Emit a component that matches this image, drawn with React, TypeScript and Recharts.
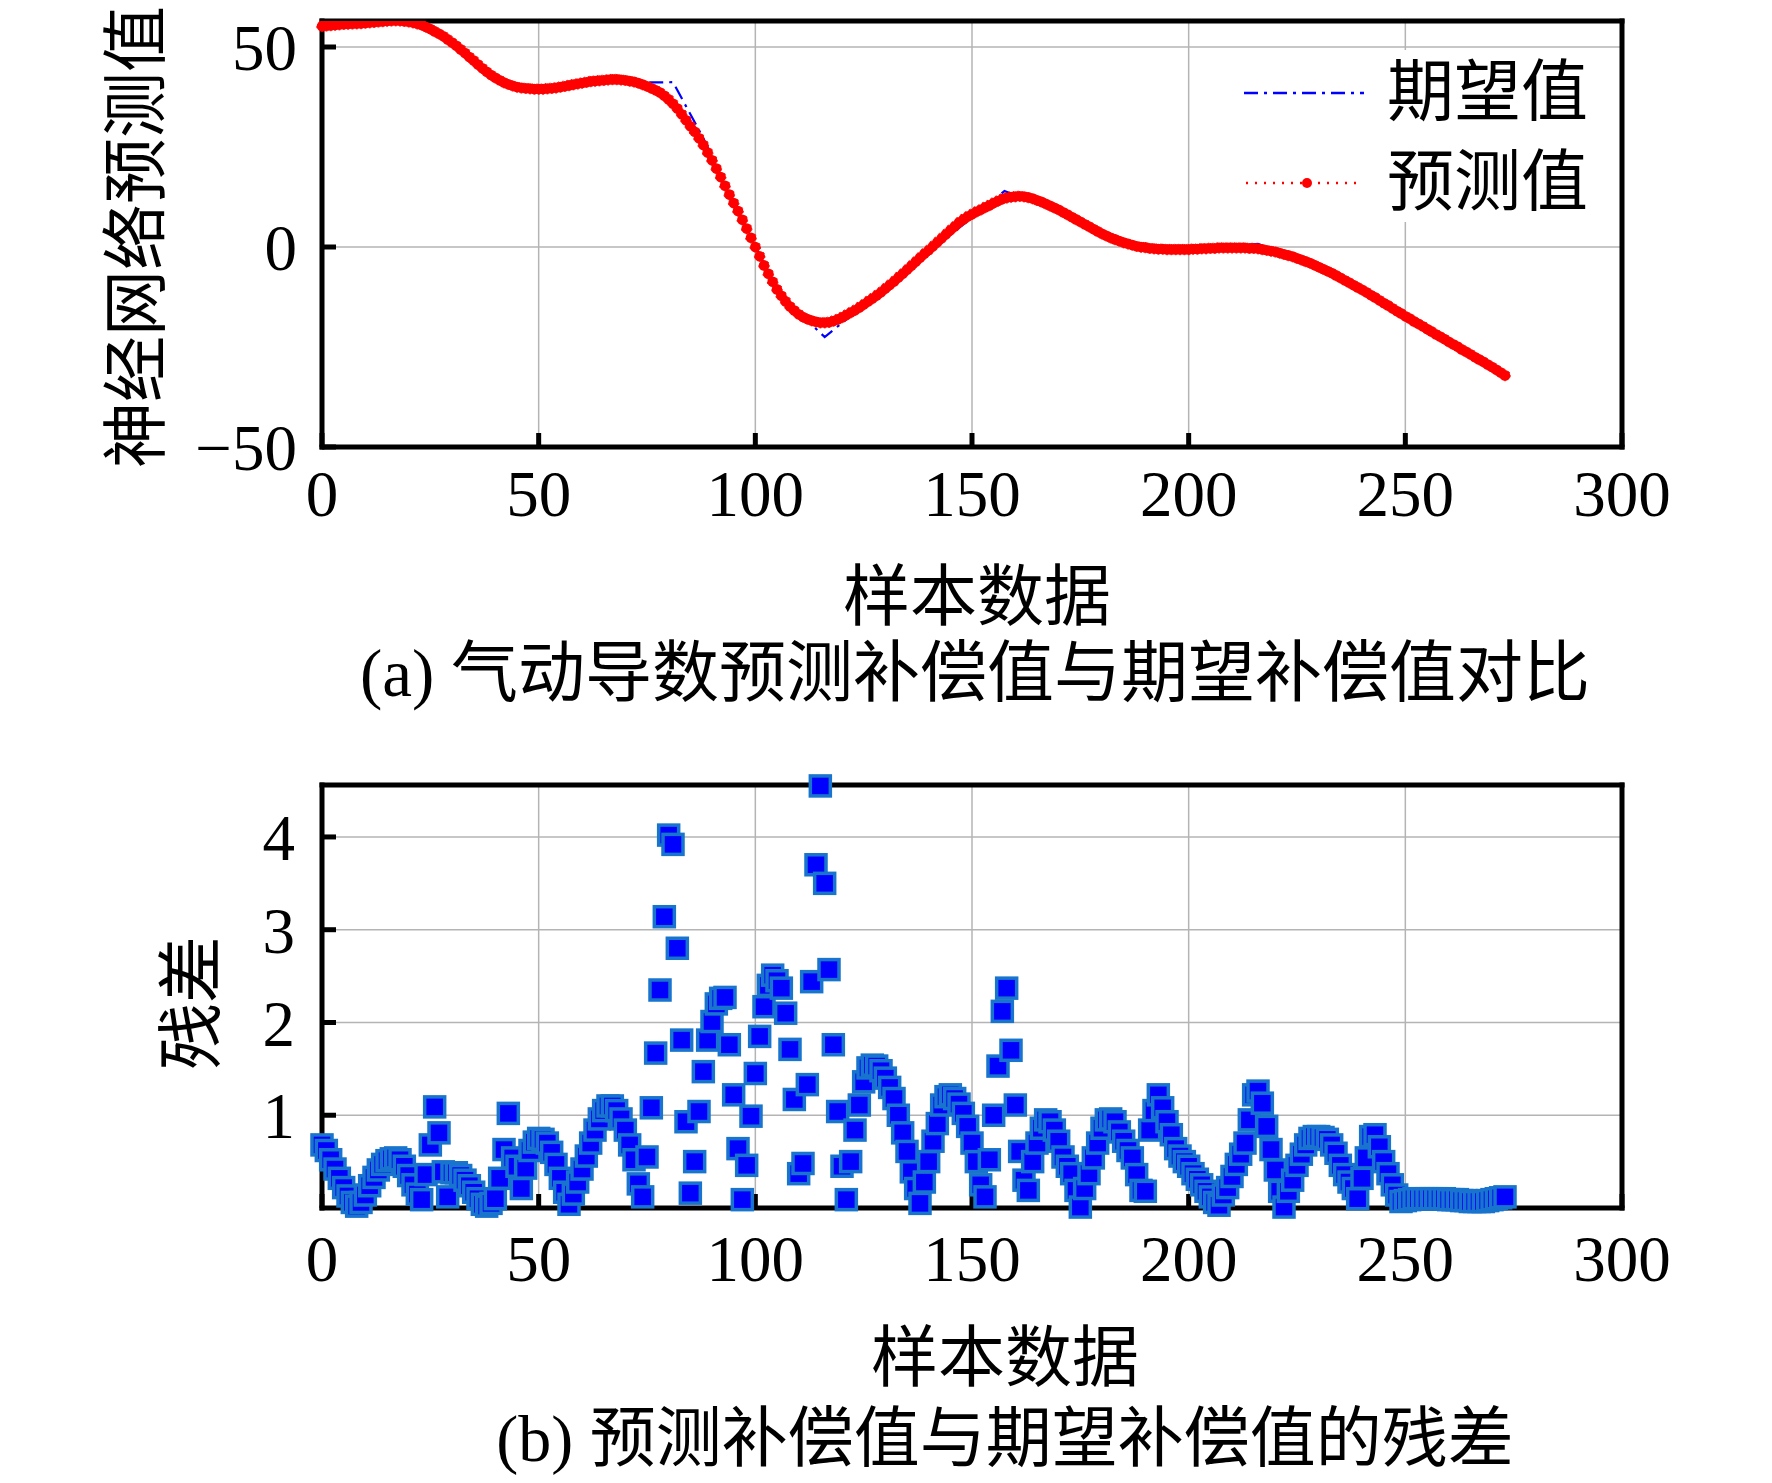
import React from "react";
import {
  LineChart, Line, ScatterChart, Scatter, XAxis, YAxis, CartesianGrid,
} from "recharts";

// sample index ticks shared by both panels
const sampleTicks = [0, 50, 100, 150, 200, 250, 300];
const valueTicks = [-50, 0, 50];
const residualTicks = [1, 2, 3, 4];

// predicted compensation value, one per sample (0..273)
const predicted = [
  55.2, 55.3, 55.4, 55.5, 55.6, 55.7, 55.75, 55.8, 55.85, 55.9,
  56.0, 56.1, 56.2, 56.3, 56.4, 56.5, 56.55, 56.6, 56.55, 56.45,
  56.3, 56.1, 55.8, 55.5, 55.0, 54.5, 53.9, 53.3, 52.7, 51.9,
  51.1, 50.3, 49.4, 48.5, 47.5, 46.6, 45.6, 44.7, 43.8, 43.0,
  42.3, 41.7, 41.1, 40.7, 40.3, 40.0, 39.8, 39.7, 39.6, 39.5,
  39.5, 39.5, 39.6, 39.7, 39.8, 40.0, 40.2, 40.4, 40.6, 40.8,
  41.0, 41.2, 41.4, 41.5, 41.6, 41.7, 41.8, 41.9, 41.9, 41.8,
  41.7, 41.5, 41.3, 41.0, 40.6, 40.2, 39.7, 39.2, 38.6, 37.8,
  36.9, 35.8, 34.6, 33.2, 31.7, 30.2, 28.8, 27.2, 25.5, 23.6,
  21.7, 19.6, 17.5, 15.3, 13.1, 11.0, 9.0, 6.8, 4.6, 2.3,
  0.0, -2.3, -4.6, -6.7, -8.7, -10.6, -12.2, -13.6, -14.9, -15.9,
  -16.8, -17.5, -18.0, -18.4, -18.7, -18.9, -18.9, -18.8, -18.5, -18.1,
  -17.6, -17.0, -16.4, -15.8, -15.1, -14.4, -13.6, -12.9, -12.1, -11.3,
  -10.4, -9.5, -8.6, -7.6, -6.7, -5.7, -4.7, -3.7, -2.7, -1.7,
  -0.8, 0.2, 1.2, 2.2, 3.2, 4.2, 5.1, 6.1, 6.9, 7.6,
  8.2, 8.8, 9.3, 9.9, 10.4, 11.0, 11.5, 12.0, 12.3, 12.5,
  12.6, 12.7, 12.6, 12.4, 12.1, 11.7, 11.3, 10.8, 10.3, 9.8,
  9.3, 8.7, 8.1, 7.5, 6.9, 6.3, 5.7, 5.1, 4.5, 3.9,
  3.3, 2.8, 2.3, 1.9, 1.5, 1.1, 0.8, 0.5, 0.2, 0.0,
  -0.1, -0.3, -0.4, -0.5, -0.5, -0.6, -0.6, -0.6, -0.6, -0.6,
  -0.6, -0.5, -0.5, -0.4, -0.4, -0.3, -0.3, -0.2, -0.2, -0.2,
  -0.2, -0.2, -0.2, -0.2, -0.3, -0.3, -0.4, -0.6, -0.8, -1.0,
  -1.2, -1.5, -1.8, -2.1, -2.4, -2.8, -3.2, -3.6, -4.0, -4.5,
  -5.0, -5.5, -6.0, -6.5, -7.1, -7.7, -8.3, -8.9, -9.5, -10.1,
  -10.7, -11.3, -12.0, -12.6, -13.3, -14.0, -14.6, -15.3, -16.0, -16.6,
  -17.3, -17.9, -18.6, -19.2, -19.8, -20.5, -21.1, -21.8, -22.4, -23.0,
  -23.7, -24.3, -24.9, -25.6, -26.2, -26.8, -27.5, -28.1, -28.7, -29.4,
  -30.0, -30.7, -31.4, -32.1,
];

// expected value: piecewise linear, vertices
const expectedX = [0, 10, 18, 24, 30, 36, 42, 48, 54, 60, 81, 88, 94, 100, 106, 116, 157.5, 193, 216, 222, 230, 240, 250, 262, 273];
const expectedY = [55.2, 56.0, 56.6, 55.5, 51.1, 45.6, 41.1, 39.6, 39.8, 41.0, 41.2, 27.2, 13.1, 0.0, -12.2, -22.5, 14.0, -1.5, 0.8, -1.8, -5.0, -10.7, -17.3, -24.9, -32.1];

// residual per sample (0..273)
const residual = [
  0.68, 0.62, 0.52, 0.42, 0.32, 0.22, 0.13, 0.06, 0.02, 0.06,
  0.14, 0.24, 0.33, 0.41, 0.47, 0.51, 0.53, 0.54, 0.52, 0.45,
  0.35, 0.25, 0.15, 0.09, 0.36, 0.68, 1.09, 0.81, 0.39, 0.12,
  0.38, 0.38, 0.35, 0.30, 0.24, 0.17, 0.10, 0.04, 0.02, 0.05,
  0.10, 0.32, 0.63, 1.02, 0.54, 0.45, 0.21, 0.43, 0.62, 0.71,
  0.75, 0.74, 0.70, 0.60, 0.47, 0.32, 0.17, 0.04, 0.15, 0.28,
  0.42, 0.56, 0.70, 0.84, 0.96, 1.05, 1.10, 1.10, 1.05, 0.96,
  0.84, 0.68, 0.52, 0.26, 0.12, 0.55, 1.08, 1.67, 2.35, 3.14,
  4.02, 3.92, 2.80, 1.81, 0.93, 0.16, 0.50, 1.04, 1.47, 1.81,
  2.01, 2.20, 2.26, 2.27, 1.76, 1.22, 0.64, 0.09, 0.46, 0.99,
  1.45, 1.85, 2.17, 2.40, 2.51, 2.45, 2.37, 2.10, 1.71, 1.17,
  0.37, 0.48, 1.33, 2.44, 3.70, 4.55, 3.50, 2.57, 1.76, 1.04,
  0.45, 0.09, 0.50, 0.84, 1.11, 1.36, 1.51, 1.54, 1.53, 1.48,
  1.40, 1.30, 1.18, 1.00, 0.81, 0.61, 0.39, 0.21, 0.05, 0.28,
  0.50, 0.72, 0.91, 1.11, 1.20, 1.22, 1.18, 1.12, 1.02, 0.88,
  0.70, 0.50, 0.25, 0.12, 0.52, 1.00, 1.53, 2.12, 2.37, 1.70,
  1.11, 0.61, 0.30, 0.19, 0.50, 0.70, 0.86, 0.95, 0.93, 0.84,
  0.72, 0.55, 0.45, 0.37, 0.19, 0.01, 0.21, 0.37, 0.54, 0.70,
  0.86, 0.95, 0.96, 0.93, 0.82, 0.72, 0.62, 0.54, 0.36, 0.19,
  0.18, 0.84, 1.05, 1.22, 1.08, 0.93, 0.79, 0.64, 0.56, 0.50,
  0.45, 0.37, 0.31, 0.25, 0.18, 0.12, 0.06, 0.03, 0.14, 0.22,
  0.34, 0.47, 0.58, 0.70, 0.95, 1.22, 1.26, 1.13, 0.88, 0.63,
  0.41, 0.18, 0.01, 0.18, 0.30, 0.46, 0.58, 0.68, 0.75, 0.77,
  0.77, 0.76, 0.74, 0.68, 0.59, 0.46, 0.36, 0.28, 0.21, 0.10,
  0.32, 0.54, 0.77, 0.79, 0.66, 0.50, 0.37, 0.25, 0.14, 0.07,
  0.08, 0.09, 0.10, 0.10, 0.10, 0.10, 0.10, 0.10, 0.10, 0.10,
  0.09, 0.09, 0.09, 0.08, 0.08, 0.07, 0.07, 0.07, 0.07, 0.08,
  0.09, 0.10, 0.11, 0.12,
];

const predictedRows = predicted.map((v, i) => ({ x: i, y: v }));
const expectedRows = expectedX.map((x, i) => ({ x, y: expectedY[i] }));
const residualRows = residual.map((v, i) => ({ x: i, r: v }));

const SERIF = "'Liberation Serif', 'Times New Roman', 'Noto Sans CJK SC', serif";
const tickStyle = { fill: "#000", fontSize: 65, fontFamily: SERIF };
const axisLine = { stroke: "#000", strokeWidth: 5, strokeLinecap: "square" as const };
const tickLine = { stroke: "#000", strokeWidth: 5 };

const fmtMinus = (v: number) => (v < 0 ? `\u2212${-v}` : `${v}`);

const Square = (props: any) => {
  const { cx, cy } = props;
  if (cx == null || cy == null) return null;
  return <rect x={cx - 10} y={cy - 10} width={20} height={20} fill="#0000ff" stroke="#1874cd" strokeWidth={3.5} />;
};

// axes get 1px of width/height (recharts skips a 0-size axis); margins are shifted by 1 to keep the plot box at
// left 322, right 1622
export default function App() {
  return (
    <div style={{ position: "absolute", left: 0, top: 0, width: 1772, height: 1483, background: "#fff" }}>
      {/* (a) plot box y 21..447 */}
      <div style={{ position: "absolute", left: 0, top: 0 }}>
        <LineChart width={1772} height={540} margin={{ top: 20, right: 149, bottom: 92, left: 321 }}>
          <CartesianGrid stroke="#b4b4b4" strokeWidth={1.5} />
          <XAxis dataKey="x" type="number" domain={[0, 300]} ticks={sampleTicks} height={1}
            axisLine={axisLine} tickLine={tickLine} tickSize={-14} tickMargin={37} tick={tickStyle} />
          <XAxis xAxisId="top" orientation="top" dataKey="x" type="number" domain={[0, 300]} ticks={sampleTicks} height={1}
            axisLine={axisLine} tickLine={tickLine} tickSize={-14} tick={false} />
          <YAxis type="number" domain={[-50, 56.5]} ticks={valueTicks} width={1} allowDataOverflow
            axisLine={axisLine} tickLine={tickLine} tickSize={-14} tickMargin={39} tick={tickStyle} tickFormatter={fmtMinus} />
          <YAxis yAxisId="r" orientation="right" type="number" domain={[-50, 56.5]} ticks={valueTicks} width={1}
            axisLine={axisLine} tickLine={tickLine} tickSize={-14} tick={false} />
          <Line data={expectedRows} dataKey="y" stroke="#0000ff" strokeWidth={2.2} strokeDasharray="14 6 3 6"
            dot={false} isAnimationActive={false} />
          <Line data={predictedRows} dataKey="y" stroke="#ff0000" strokeWidth={2} strokeDasharray="2 5"
            dot={{ r: 5.3, fill: "#ff0000", stroke: "#ff0000", strokeWidth: 1 }} isAnimationActive={false} />
        </LineChart>
      </div>

      {/* (b) plot box y 785..1208 */}
      <div style={{ position: "absolute", left: 0, top: 760 }}>
        <ScatterChart width={1772} height={560} margin={{ top: 24, right: 149, bottom: 111, left: 321 }}>
          <CartesianGrid stroke="#b4b4b4" strokeWidth={1.5} />
          <XAxis dataKey="x" type="number" domain={[0, 300]} ticks={sampleTicks} height={1}
            axisLine={axisLine} tickLine={tickLine} tickSize={-14} tickMargin={41} tick={tickStyle} />
          <XAxis xAxisId="top" orientation="top" dataKey="x" type="number" domain={[0, 300]} ticks={sampleTicks} height={1}
            axisLine={axisLine} tickLine={tickLine} tickSize={-14} tick={false} />
          <YAxis dataKey="r" type="number" domain={[0, 4.56]} ticks={residualTicks} width={1}
            axisLine={axisLine} tickLine={tickLine} tickSize={-14} tickMargin={41} tick={tickStyle} />
          <YAxis yAxisId="r" orientation="right" dataKey="r" type="number" domain={[0, 4.56]} ticks={residualTicks} width={1}
            axisLine={axisLine} tickLine={tickLine} tickSize={-14} tick={false} />
          <Scatter data={residualRows} shape={Square} isAnimationActive={false} />
        </ScatterChart>
      </div>

      {/* titles, captions, legend */}
      <svg width={1772} height={1483} style={{ position: "absolute", left: 0, top: 0, pointerEvents: "none" }}>
        <g fontFamily={SERIF} fill="#000">
          <rect x={1236} y={50} width={383} height={172} fill="#fff" />
          <line x1={1244} y1={93} x2={1364} y2={93} stroke="#0000ff" strokeWidth={2.5} strokeDasharray="14 6 3 6" />
          <line x1={1246} y1={183} x2={1360} y2={183} stroke="#ff0000" strokeWidth={2.5} strokeDasharray="2 7" />
          <circle cx={1307} cy={183} r={5} fill="#ff0000" />
          <text x={1387} y={92} fontSize={67} dominantBaseline="central">期望值</text>
          <text x={1387} y={182} fontSize={67} dominantBaseline="central">预测值</text>

          <text x={136} y={237} fontSize={66} textAnchor="middle" dominantBaseline="central"
            transform="rotate(-90 136 237)">神经网络预测值</text>
          <text x={977} y={597} fontSize={67} textAnchor="middle" dominantBaseline="central">样本数据</text>
          <text x={975} y={673} fontSize={67} textAnchor="middle" dominantBaseline="central">(a) 气动导数预测补偿值与期望补偿值对比</text>

          <text x={192} y={1003} fontSize={67} textAnchor="middle" dominantBaseline="central"
            transform="rotate(-90 192 1003)">残差</text>
          <text x={1005} y={1358} fontSize={67} textAnchor="middle" dominantBaseline="central">样本数据</text>
          <text x={1005} y={1438} fontSize={66} textAnchor="middle" dominantBaseline="central">(b) 预测补偿值与期望补偿值的残差</text>
        </g>
      </svg>
    </div>
  );
}
